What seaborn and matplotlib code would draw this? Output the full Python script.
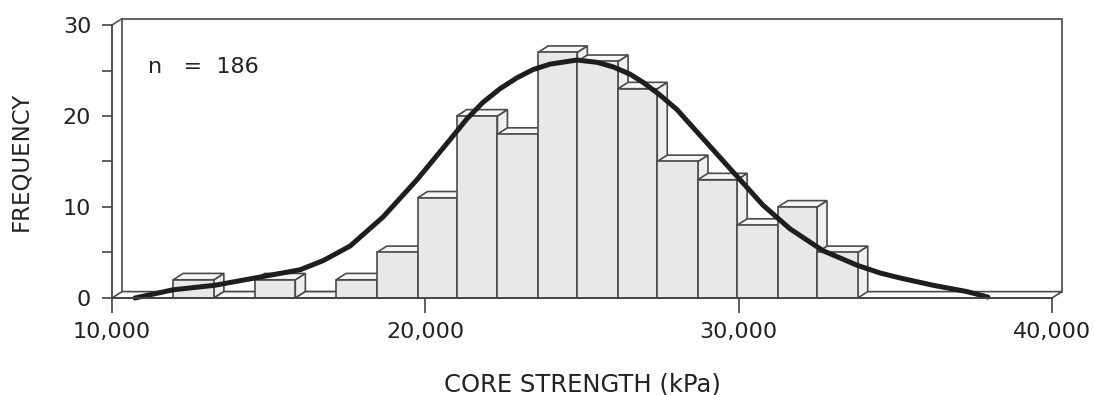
import numpy as np
import pandas as pd
import matplotlib
matplotlib.use('Agg')
import matplotlib.pyplot as plt
from matplotlib.patches import Polygon
from matplotlib.ticker import FuncFormatter, MultipleLocator
import seaborn as sns

# histogram bins (kPa) and their counts
bin_edges = [11950, 13250, 14550, 15850, 17150, 18450, 19750, 21000, 22300,
             23600, 24850, 26150, 27400, 28700, 29950, 31250, 32500, 33800]
counts = [2, 0, 2, 0, 2, 5, 11, 20, 18, 27, 26, 23, 15, 13, 8, 10, 5]

# fitted curve, points
curve_x = [10734, 11947, 13287, 14564, 16000, 16734, 17596, 18649, 19734,
           20787, 21330, 21840, 22383, 22926, 23436, 23979, 24840, 25479,
           25989, 26532, 26947, 27490, 28032, 28606, 29181, 30043, 30777,
           31638, 32691, 33777, 34511, 35149, 36202, 37287, 37957]
curve_y = [0.0, 0.9, 1.4, 2.2, 3.1, 4.1, 5.7, 8.9, 13.0, 17.4, 19.7, 21.5,
           23.0, 24.2, 25.1, 25.7, 26.15, 25.9, 25.4, 24.6, 23.7, 22.3, 20.7,
           18.5, 16.3, 13.0, 10.2, 7.6, 5.2, 3.6, 2.75, 2.2, 1.4, 0.7, 0.1]

x_ticks = [10000, 20000, 30000, 40000]
y_ticks = [0, 10, 20, 30]

# depth of the pseudo 3-d look, in data units
DX = 320
DY = 0.7

EDGE = '#4a4a4a'
FACE = '#e8e8e8'
TEXT = '#222222'

sns.set_theme(style='white')
plt.rcParams['font.family'] = ['DejaVu Sans']

centers = [(a + b) / 2 for a, b in zip(bin_edges[:-1], bin_edges[1:])]
df = pd.DataFrame({'strength': centers, 'freq': counts})
curve = pd.DataFrame({'strength': curve_x, 'freq': curve_y})

fig = plt.figure(figsize=(10.94, 3.95), dpi=100)
ax = fig.add_axes([0.1024, 0.2456, 0.8592, 0.6911])

sns.histplot(data=df, x='strength', weights='freq', bins=bin_edges,
             color=FACE, edgecolor=EDGE, linewidth=1.2, alpha=1, ax=ax)

# give every bar a top and a right face
bars = sorted(ax.patches, key=lambda p: p.get_x())
for i, p in enumerate(bars):
    x0, w, h = p.get_x(), p.get_width(), p.get_height()
    z = 2 + i * 0.01
    side = Polygon([(x0 + w, 0), (x0 + w, h), (x0 + w + DX, h + DY), (x0 + w + DX, DY)],
                   closed=True, facecolor='#efefef', edgecolor=EDGE, lw=1.2, zorder=z)
    top = Polygon([(x0, h), (x0 + w, h), (x0 + w + DX, h + DY), (x0 + DX, h + DY)],
                  closed=True, facecolor='#f6f6f6', edgecolor=EDGE, lw=1.2, zorder=z + 0.001)
    ax.add_patch(side)
    ax.add_patch(top)
    p.set_zorder(z + 0.002)
    p.set_facecolor(FACE)

# back wall, floor and left wall
x_lo, x_hi = 10000, 40000
wall = Polygon([(x_lo + DX, DY), (x_hi + DX, DY), (x_hi + DX, 30 + DY), (x_lo + DX, 30 + DY)],
               closed=True, facecolor='white', edgecolor='#555555', lw=1.3, zorder=0.5, clip_on=False)
floor = Polygon([(x_lo, 0), (x_hi, 0), (x_hi + DX, DY), (x_lo + DX, DY)],
                closed=True, facecolor='white', edgecolor=EDGE, lw=1.2, zorder=1, clip_on=False)
ax.add_patch(wall)
ax.add_patch(floor)
ax.plot([x_lo, x_lo + DX], [30, 30 + DY], color='#555555', lw=1.2, clip_on=False, zorder=1)

sns.lineplot(data=curve, x='strength', y='freq', sort=False, color='#1e1e1e',
             lw=3.6, ax=ax, zorder=10, clip_on=False,
             solid_joinstyle='round', solid_capstyle='round')

ax.set_xlim(x_lo, x_hi)
ax.set_ylim(0, 30)
ax.set_xticks(x_ticks)
ax.set_yticks(y_ticks)
ax.yaxis.set_minor_locator(MultipleLocator(5))
ax.xaxis.set_major_formatter(FuncFormatter(lambda v, _: f'{int(v):,}'))

for s in ['top', 'right']:
    ax.spines[s].set_visible(False)
for s in ['left', 'bottom']:
    ax.spines[s].set_color('#444444')
    ax.spines[s].set_linewidth(1.3)
    ax.spines[s].set_zorder(11)

ax.tick_params(axis='x', which='major', direction='out', length=11, width=1.2,
               color='#444444', pad=6, labelsize=16, labelcolor=TEXT, bottom=True)
ax.tick_params(axis='y', which='both', direction='out', length=7, width=1.2,
               color='#444444', pad=8, labelsize=16, labelcolor=TEXT, left=True)

ax.set_xlabel('CORE STRENGTH (kPa)', fontsize=17.5, color=TEXT, labelpad=22)
ax.set_ylabel('FREQUENCY', fontsize=16.5, color=TEXT, labelpad=22)

ax.text(0.038, 0.824, 'n   =  186', transform=ax.transAxes, fontsize=16,
        color=TEXT, va='baseline', ha='left')

fig.savefig('out.png', dpi=100)
